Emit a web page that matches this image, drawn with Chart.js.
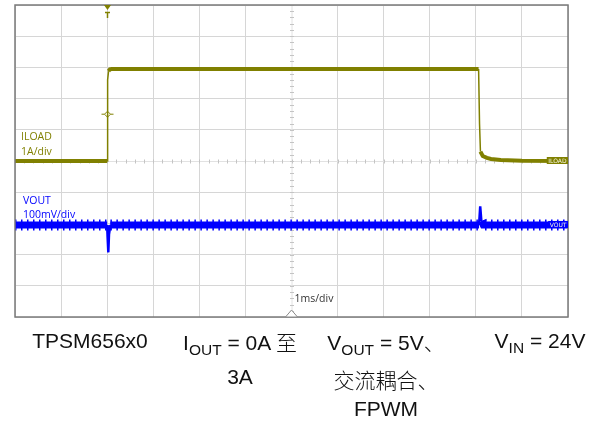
<!DOCTYPE html>
<html>
<head>
<meta charset="utf-8">
<script src="https://cdn.jsdelivr.net/npm/chart.js@4.4.1/dist/chart.umd.min.js"></script>
<style>
  html, body { margin: 0; padding: 0; background: #fff; }
  #wrap { position: relative; width: 598px; height: 421px; overflow: hidden; }
  #scope { position: absolute; left: 0; top: 0; }
  .cap {
    position: absolute; white-space: nowrap; line-height: 20px;
    font-family: "Liberation Sans", Arial, sans-serif; font-size: 21px; color: #111;
    transform: translateX(-50%);
  }
  .cap sub { font-size: 15.5px; vertical-align: -5px; line-height: 0; }
  .cjk { font-family: "Noto Sans CJK SC", sans-serif; font-weight: 300; }
</style>
</head>
<body>
<div id="wrap">
  <canvas id="scope" width="598" height="421"></canvas>
  <div class="cap" style="left:90px; top:331px;">TPSM656x0</div>
  <div class="cap" style="left:240px; top:331px;">I<sub>OUT</sub> = 0A <span class="cjk">至</span></div>
  <div class="cap" style="left:240px; top:367px;">3A</div>
  <div class="cap" style="left:386px; top:331px;">V<sub>OUT</sub> = 5V<span class="cjk">、</span></div>
  <div class="cap cjk" style="left:386px; top:369px;">交流耦合、</div>
  <div class="cap" style="left:386px; top:399px;">FPWM</div>
  <div class="cap" style="left:540px; top:331px;">V<sub>IN</sub> = 24V</div>
</div>
<script>
"use strict";

// time axis in divisions (1 ms/div), 12 divisions across
const X_DIVS = 12;
const Y_DIVS = 10;
const TRIGGER_T = 2.0;

// ILOAD trace, 1 A/div, zero on centre line
const ILOAD_T = [0, 2.0, 2.01, 2.03, 2.06, 2.1, 10.06, 10.08, 10.1, 10.15, 10.24, 10.33, 10.54, 11.0, 12];
const ILOAD_A = [0, 0,   2.6,  2.88, 2.94, 2.95, 2.95, 1.2,  0.3,  0.16,  0.1,   0.065, 0.03,  0.01, 0];

// VOUT trace (AC coupled), 100 mV/div, offset in divisions
const VOUT_OFFSET = -2.05;
const VOUT_T  = [0, 2.0, 2.01, 2.025, 2.04, 2.07, 10.07, 10.095, 10.12, 10.16, 12];
const VOUT_MV = [0, 0,   -40,  -88,   -30,  0,    0,     60,     12,     0,     0];

const OLIVE = "#808000";
const BLUE  = "#0000ff";
const GRID  = "#d6d6d6";

function pts(ts, vs, map) {
  return ts.map((t, i) => ({ x: t, y: map(vs[i]) }));
}

function isSteep(ctx) {
  const dx = Math.abs(ctx.p1.x - ctx.p0.x);
  const dy = Math.abs(ctx.p1.y - ctx.p0.y);
  return dy > 4 * dx + 3;
}

// steep transitions drawn thin like the scope does
function steepWidth(thin, thick) {
  return ctx => (isSteep(ctx) ? thin : thick);
}

const scopeDecor = {
  id: "scopeDecor",
  beforeDatasetsDraw(chart) {
    const { ctx, chartArea: a, scales: { x, y } } = chart;
    const cx = x.getPixelForValue(X_DIVS / 2);
    const cy = y.getPixelForValue(0);
    ctx.save();
    ctx.strokeStyle = "#e2e2e2";
    ctx.lineWidth = 1;
    ctx.beginPath();
    ctx.moveTo(a.left, cy + 0.5); ctx.lineTo(a.right, cy + 0.5);
    ctx.moveTo(cx + 0.5, a.top); ctx.lineTo(cx + 0.5, a.bottom);
    ctx.stroke();
    // minor ticks on centre lines
    ctx.strokeStyle = "#c4c4c4";
    ctx.beginPath();
    for (let i = 0; i <= X_DIVS * 5; i++) {
      const px = Math.round(x.getPixelForValue(i / 5)) + 0.5;
      ctx.moveTo(px, cy - 1.5); ctx.lineTo(px, cy + 2.5);
    }
    for (let i = -Y_DIVS / 2 * 5; i <= Y_DIVS / 2 * 5; i++) {
      const py = Math.round(y.getPixelForValue(i / 5)) + 0.5;
      ctx.moveTo(cx - 1.5, py); ctx.lineTo(cx + 2.5, py);
    }
    ctx.stroke();
    ctx.restore();
  },
  afterDatasetsDraw(chart) {
    const { ctx, chartArea: a, scales: { x, y } } = chart;
    ctx.save();

    // frame
    ctx.strokeStyle = "#7a7a7a";
    ctx.lineWidth = 1.5;
    ctx.strokeRect(a.left, a.top, a.right - a.left, a.bottom - a.top);

    // trigger marker at top
    const tx = Math.round(x.getPixelForValue(TRIGGER_T)) + 0.5;
    ctx.fillStyle = OLIVE;
    ctx.beginPath();
    ctx.moveTo(tx - 3.5, a.top); ctx.lineTo(tx + 3.5, a.top); ctx.lineTo(tx, a.top + 5);
    ctx.closePath(); ctx.fill();
    ctx.strokeStyle = OLIVE;
    ctx.lineWidth = 1.5;
    ctx.beginPath();
    ctx.moveTo(tx - 2.5, a.top + 7.5); ctx.lineTo(tx + 2.5, a.top + 7.5);
    ctx.moveTo(tx, a.top + 7); ctx.lineTo(tx, a.top + 13);
    ctx.stroke();

    // trigger level diamond
    const dy = y.getPixelForValue(1.5);
    ctx.lineWidth = 1;
    ctx.beginPath();
    ctx.moveTo(tx, dy - 3); ctx.lineTo(tx + 3, dy); ctx.lineTo(tx, dy + 3); ctx.lineTo(tx - 3, dy);
    ctx.closePath(); ctx.stroke();
    ctx.beginPath();
    ctx.moveTo(tx - 6, dy); ctx.lineTo(tx - 3, dy);
    ctx.moveTo(tx + 3, dy); ctx.lineTo(tx + 6, dy);
    ctx.stroke();

    // channel labels
    ctx.font = "10.5px 'Open Sans', sans-serif";
    ctx.textBaseline = "alphabetic";
    ctx.textAlign = "left";
    ctx.fillStyle = OLIVE;
    ctx.fillText("ILOAD", a.left + 6, 140);
    ctx.fillText("1A/div", a.left + 6, 155);
    ctx.fillStyle = BLUE;
    ctx.fillText("VOUT", a.left + 8, 204);
    ctx.fillText("100mV/div", a.left + 8, 218);

    // ground markers at right edge
    function marker(text, level, color) {
      const py = y.getPixelForValue(level);
      ctx.font = "6px 'DejaVu Sans', sans-serif";
      const w = ctx.measureText(text).width + 3;
      ctx.fillStyle = color;
      ctx.fillRect(a.right - w, py - 4, w, 7);
      ctx.fillStyle = "#f4f4e0";
      ctx.textAlign = "right";
      ctx.textBaseline = "middle";
      ctx.fillText(text, a.right - 1.5, py);
    }
    marker("ILOAD", 0, OLIVE);
    marker("VOUT", VOUT_OFFSET, BLUE);

    // horizontal position marker and timebase
    const cx = x.getPixelForValue(X_DIVS / 2);
    ctx.strokeStyle = "#8a8a8a";
    ctx.fillStyle = "#fff";
    ctx.lineWidth = 1;
    ctx.beginPath();
    ctx.moveTo(cx - 6, a.bottom); ctx.lineTo(cx, a.bottom - 7); ctx.lineTo(cx + 6, a.bottom);
    ctx.closePath(); ctx.fill(); ctx.stroke();
    ctx.fillStyle = "#333";
    ctx.font = "10.5px 'Open Sans', sans-serif";
    ctx.textAlign = "left";
    ctx.textBaseline = "alphabetic";
    ctx.fillText("1ms/div", cx + 3, 302);

    ctx.restore();
  },
};

const axisCommon = {
  type: "linear",
  ticks: { display: false, stepSize: 1 },
  grid: {
    color: GRID,
    drawTicks: false,
    lineWidth: c => (c.tick && c.tick.value === 0 ? 0 : 1),
  },
  border: { display: false },
};

const voutPoints = pts(VOUT_T, VOUT_MV, v => VOUT_OFFSET + v / 100);

new Chart(document.getElementById("scope").getContext("2d"), {
  type: "line",
  data: {
    datasets: [
      {
        // switching ripple texture on the VOUT band
        label: "VOUT ripple",
        data: voutPoints,
        borderColor: BLUE,
        borderWidth: 11,
        borderDash: [1.5, 4.5],
        pointRadius: 0,
        tension: 0,
        segment: { borderColor: c => (isSteep(c) ? "rgba(0,0,0,0)" : BLUE) },
      },
      {
        label: "VOUT",
        data: voutPoints,
        borderColor: BLUE,
        borderWidth: 7,
        pointRadius: 0,
        tension: 0,
        segment: { borderWidth: steepWidth(2.5, 7) },
      },
      {
        label: "ILOAD",
        data: pts(ILOAD_T, ILOAD_A, v => v),
        borderColor: OLIVE,
        borderWidth: 4,
        pointRadius: 0,
        tension: 0,
        segment: { borderWidth: steepWidth(1.5, 4) },
      },
    ],
  },
  options: {
    responsive: false,
    animation: false,
    devicePixelRatio: 1,
    layout: { padding: { left: 15, top: 5, right: 30, bottom: 104 } },
    scales: {
      x: {
        ...axisCommon,
        min: 0, max: X_DIVS,
        grid: { ...axisCommon.grid, lineWidth: c => (c.tick && c.tick.value === X_DIVS / 2 ? 0 : 1) },
      },
      y: { ...axisCommon, min: -Y_DIVS / 2, max: Y_DIVS / 2 },
    },
    plugins: {
      legend: { display: false },
      tooltip: { enabled: false },
    },
  },
  plugins: [scopeDecor],
});
</script>
</body>
</html>
